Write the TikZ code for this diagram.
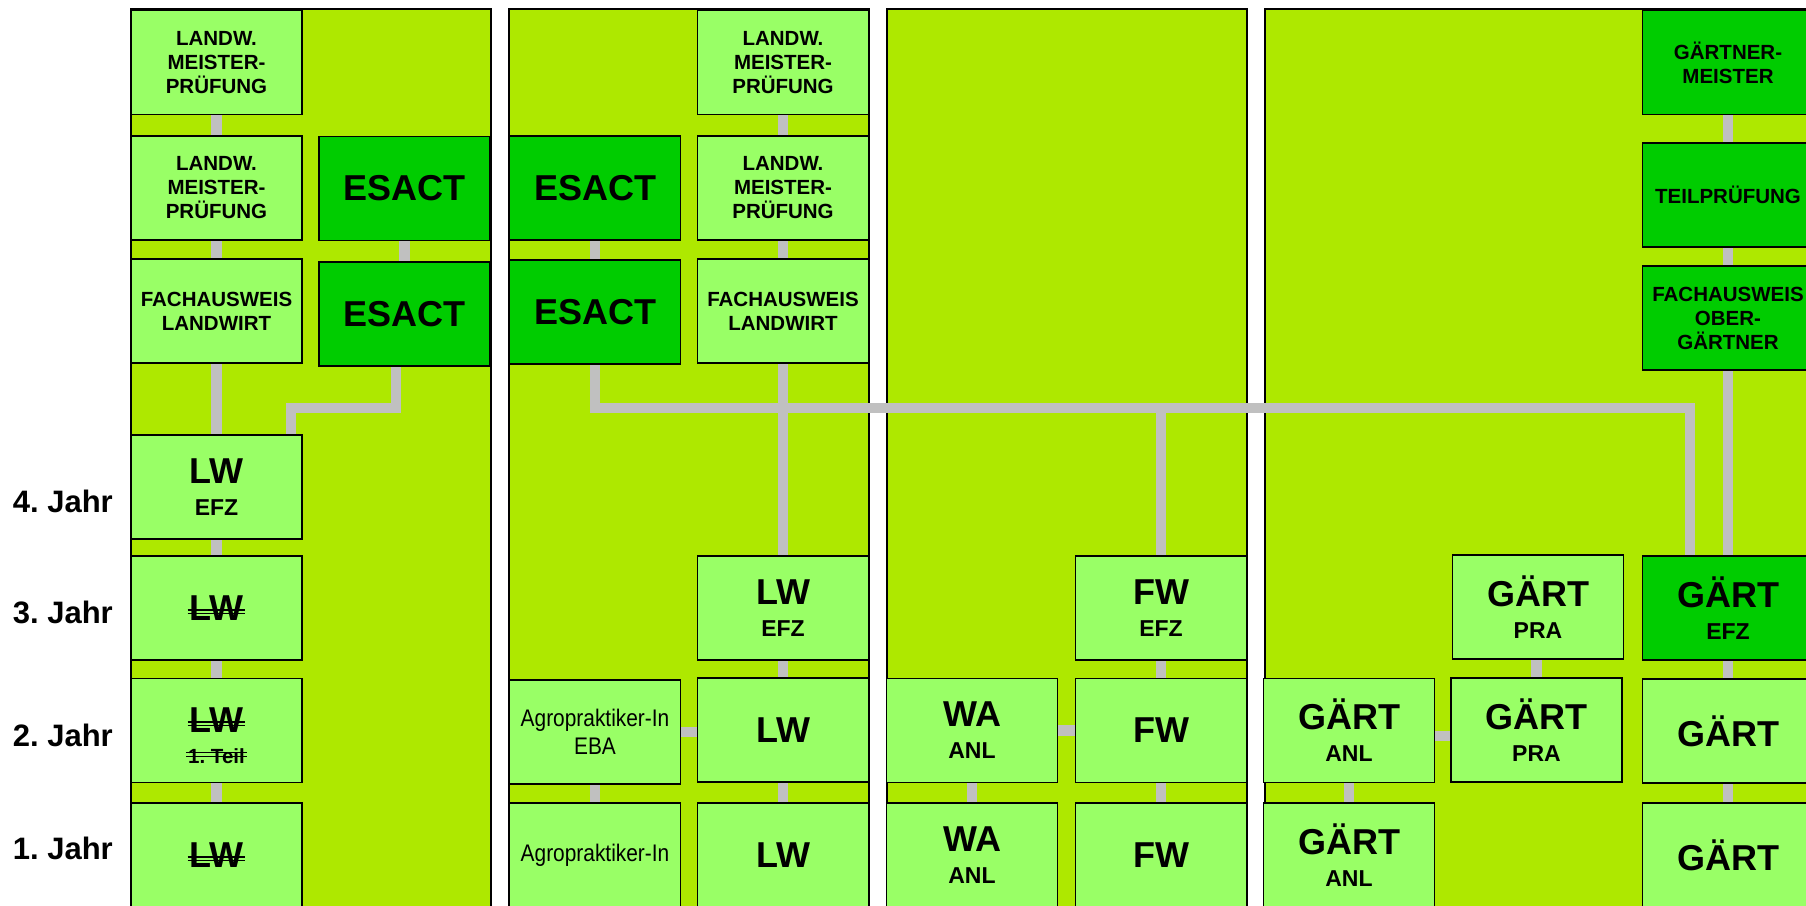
\documentclass[tikz,border=0pt]{standalone}
\usepackage{fontspec}
\setmainfont{Liberation Sans}
\newfontfamily\narrowfont[FakeStretch=0.87]{Liberation Sans}
\frenchspacing
\definecolor{panelg}{RGB}{174,232,0}
\definecolor{lightg}{RGB}{153,255,102}
\definecolor{darkg}{RGB}{0,204,0}
\definecolor{linkgray}{RGB}{192,192,192}
\newcommand\fBig{\fontsize{36}{40}\selectfont\bfseries}
\newcommand\fSub{\fontsize{23}{32}\selectfont\bfseries}
\newcommand\fTeil{\fontsize{20.5}{30.7}\selectfont\bfseries}
\newcommand\fMed{\fontsize{20.5}{24}\selectfont\bfseries}
\newcommand\fYear{\fontsize{31}{36}\selectfont\bfseries}
\newcommand\fAgro{\narrowfont\fontsize{24}{28}\selectfont}
\newsavebox\strbox
\newcommand\dstrike[1]{\sbox\strbox{#1}\rlap{\hskip-2pt\rule[6.3pt]{\dimexpr\wd\strbox+4pt\relax}{1.4pt}}\rlap{\hskip-2pt\rule[9.8pt]{\dimexpr\wd\strbox+4pt\relax}{1.4pt}}\usebox\strbox}
\pgfdeclarelayer{panels}
\pgfdeclarelayer{links}
\pgfsetlayers{panels,links,main}
\begin{document}
\begin{tikzpicture}[x=1pt,y=-1pt,
  box/.style={draw=black, line width=1.5pt, minimum width=171pt, minimum height=104pt, inner sep=0pt, align=center, font=\fMed},
  lt/.style={box, fill=lightg},
  dk/.style={box, fill=darkg},
  conn/.style={draw=linkgray, line width=10.5pt},
  panel/.style={draw=black, line width=2pt, fill=panelg},
  year/.style={font=\fYear, inner sep=0pt}]
\useasboundingbox (0,0) rectangle (1806,905);
\begin{pgfonlayer}{panels}
\fill[white] (0,0) rectangle (1806,905);
\draw[panel] (131,9) rectangle (491,930);
\draw[panel] (509,9) rectangle (869,930);
\draw[panel] (887,9) rectangle (1247,930);
\draw[panel] (1265,9) rectangle (1900,930);
\end{pgfonlayer}
% year labels
\node[year, anchor=base east] (j4) at (113,512) {4. Jahr};
\node[year, anchor=base east] (j3) at (113,623) {3. Jahr};
\node[year, anchor=base east] (j2) at (113,746) {2. Jahr};
\node[year, anchor=base east] (j1) at (113,859) {1. Jahr};
% panel 1
\node[lt] (p1a) at (216.5,62.5) {LANDW.\\MEISTER-\\PRÜFUNG};
\node[lt] (p1b) at (216.5,188) {LANDW.\\MEISTER-\\PRÜFUNG};
\node[lt] (p1c) at (216.5,311) {FACHAUSWEIS\\LANDWIRT};
\node[dk,font=\fBig] (p1e1) at (404.5,188.5) {ESACT};
\node[dk,font=\fBig] (p1e2) at (404.5,314) {ESACT};
\node[lt,font=\fSub] (p1d) at (216.5,487) {{\fBig LW}\\EFZ};
\node[lt,font=\fBig] (p1y3) at (216.5,608) {\dstrike{LW}};
\node[lt,font=\fTeil] (p1y2) at (216.5,730.5) {{\fBig\rule{0pt}{35pt}\dstrike{LW}}\\\dstrike{1. Teil}};
\node[lt,font=\fBig] (p1y1) at (216.5,855) {\dstrike{LW}};
% panel 2
\node[dk,font=\fBig] (p2e1) at (595,188) {ESACT};
\node[dk,font=\fBig] (p2e2) at (595,312) {ESACT};
\node[lt] (p2a) at (783,62.5) {LANDW.\\MEISTER-\\PRÜFUNG};
\node[lt] (p2b) at (783,188) {LANDW.\\MEISTER-\\PRÜFUNG};
\node[lt] (p2c) at (783,311) {FACHAUSWEIS\\LANDWIRT};
\node[lt,font=\fSub] (p2d) at (783,608) {{\fBig LW}\\EFZ};
\node[lt,font=\fBig] (p2y2) at (783,730) {LW};
\node[lt,font=\fBig] (p2y1) at (783,855) {LW};
\node[lt,font=\fAgro] (ag2) at (595,732) {Agropraktiker-In\\EBA};
\node[lt,font=\fAgro] (ag1) at (595,855) {Agropraktiker-In};
% panel 3
\node[lt,font=\fSub] (fwe) at (1161,608) {{\fBig FW}\\EFZ};
\node[lt,font=\fSub] (wa2) at (972,730.5) {{\fBig WA}\\ANL};
\node[lt,font=\fBig] (fw2) at (1161,730.5) {FW};
\node[lt,font=\fSub] (wa1) at (972,855) {{\fBig WA}\\ANL};
\node[lt,font=\fBig] (fw1) at (1161,855) {FW};
% panel 4
\node[dk] (gm) at (1728,62.5) {GÄRTNER-\\MEISTER};
\node[dk] (gt) at (1728,195) {TEILPRÜFUNG};
\node[dk] (gf) at (1728,318) {FACHAUSWEIS\\OBER-\\GÄRTNER};
\node[dk,font=\fSub] (ge) at (1728,608) {{\fBig GÄRT}\\EFZ};
\node[lt,font=\fBig] (g2) at (1728,731) {GÄRT};
\node[lt,font=\fBig] (g1) at (1728,855) {GÄRT};
\node[lt,font=\fSub] (gp1) at (1538,607) {{\fBig GÄRT}\\PRA};
\node[lt,font=\fSub] (gp2) at (1536.5,730) {{\fBig GÄRT}\\PRA};
\node[lt,font=\fSub] (ga2) at (1349,730.5) {{\fBig GÄRT}\\ANL};
\node[lt,font=\fSub] (ga1) at (1349,855) {{\fBig GÄRT}\\ANL};
% connector corners
\coordinate (k1) at (291,408);
\coordinate (bus) at (1690,408);
\coordinate[yshift=-5.5pt] (ga2e) at (ga2.east);
\begin{pgfonlayer}{links}
% panel 1
\draw[conn] (p1a.south) -- (p1b.north);
\draw[conn] (p1b.south) -- (p1c.north);
\draw[conn] (p1c.south) -- (p1d.north);
\draw[conn] (p1d.south) -- (p1y3.north);
\draw[conn] (p1y3.south) -- (p1y2.north);
\draw[conn] (p1y2.south) -- (p1y1.north);
\draw[conn] (p1e1.south) -- (p1e2.north);
\draw[conn] ([xshift=-8.5pt]p1e2.south) |- (k1) -- (k1 |- p1d.north);
% panel 2 and bus
\draw[conn] (p2a.south) -- (p2b.north);
\draw[conn] (p2b.south) -- (p2c.north);
\draw[conn] (p2c.south) -- (p2d.north);
\draw[conn] (p2d.south) -- (p2y2.north);
\draw[conn] (p2y2.south) -- (p2y1.north);
\draw[conn] (p2e1.south) -- (p2e2.north);
\draw[conn] (p2e2.south) |- (bus) -- (bus |- ge.north);
\draw[conn] (ag2.east) -- (ag2.east -| p2y2.west);
\draw[conn] (ag2.south) -- (ag1.north);
% panel 3
\draw[conn] (fwe.north |- bus) -- (fwe.north);
\draw[conn] (fwe.south) -- (fw2.north);
\draw[conn] (fw2.south) -- (fw1.north);
\draw[conn] (wa2.east) -- (fw2.west);
\draw[conn] (wa2.south) -- (wa1.north);
% panel 4
\draw[conn] (gm.south) -- (gt.north);
\draw[conn] (gt.south) -- (gf.north);
\draw[conn] (gf.south) -- (ge.north);
\draw[conn] (ge.south) -- (g2.north);
\draw[conn] (g2.south) -- (g1.north);
\draw[conn] (gp2.north) -- (gp2.north |- gp1.south);
\draw[conn] (ga2e) -- (ga2e -| gp2.west);
\draw[conn] (ga2.south) -- (ga1.north);
\end{pgfonlayer}
\end{tikzpicture}
\end{document}
